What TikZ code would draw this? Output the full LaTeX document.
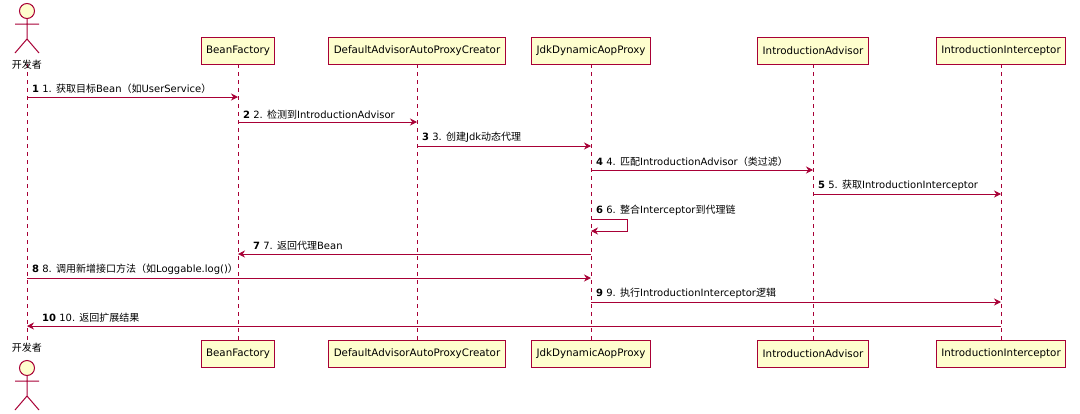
\documentclass[tikz,border=0pt]{standalone}
\usepackage{fontspec}
\setmainfont{DejaVu Sans}
\newfontfamily\cjk{Noto Sans CJK SC}
\usetikzlibrary{arrows.meta}
\definecolor{pfill}{HTML}{FEFECE}
\definecolor{pline}{HTML}{A80036}
\begin{document}
\begin{tikzpicture}[x=1pt,y=-1pt,
  part/.style={draw=pline,fill=pfill,line width=0.9pt,minimum height=27pt,inner xsep=5pt,font=\fontsize{10.3}{12}\selectfont,anchor=center},
  life/.style={draw=pline,dashed,dash pattern=on 4pt off 4pt,line width=0.6pt},
  msg/.style={draw=pline,line width=0.8pt,-{Stealth[length=7pt,width=7pt]}},
  lab/.style={font=\fontsize{10}{12}\selectfont,anchor=south west,inner sep=1pt},
  actorst/.style={draw=pline,line width=1pt}]
\useasboundingbox (0,0) rectangle (1080,413);
\fill[white] (0,0) rectangle (1080,413);
% lifelines
\foreach \x/\n in {27/a,238/b,417/c,591/d,813/e,1001/f}{
  \coordinate (\n t) at (\x,64); \coordinate (\n b) at (\x,340);
  \draw[life] (\n t) -- (\n b);
}
% participants
\foreach \x/\t/\n in {238/BeanFactory/B,417/DefaultAdvisorAutoProxyCreator/C,591/JdkDynamicAopProxy/D,813/IntroductionAdvisor/E,1001/IntroductionInterceptor/F}{
  \node[part] (\n1) at (\x,50.5) {\t};
  \node[part] (\n2) at (\x,353.5) {\t};
}
% actors
\foreach \y in {0,357}{
  \draw[actorst,fill=pfill] (27,\y+11) circle (7.5pt);
  \draw[actorst] (27,\y+18.5) -- (27,\y+39) (15,\y+24) -- (39,\y+24) (27,\y+39) -- (15,\y+53) (27,\y+39) -- (39,\y+53);
}
\node[font=\cjk\fontsize{10}{12}\selectfont] (A1) at (27,65) {开发者};
\node[font=\cjk\fontsize{10}{12}\selectfont] (A2) at (27,348) {开发者};
% messages
\newcommand\msgx[4]{% from x, to x, y, num
  \coordinate (s#4) at (#1,#3); \coordinate (e#4) at (#2,#3);
  \draw[msg] (s#4) -- (e#4);
}
\msgx{27}{238}{97}{1}
\node[lab] at (31,95) {\textbf{1} 1. {\cjk 获取目标}Bean{\cjk （如}UserService{\cjk ）}};
\msgx{238}{417}{122}{2}
\node[lab] at (242,120) {\textbf{2} 2. {\cjk 检测到}IntroductionAdvisor};
\msgx{417}{591}{146}{3}
\node[lab] at (421,144) {\textbf{3} 3. {\cjk 创建}Jdk{\cjk 动态代理}};
\msgx{591}{813}{170}{4}
\node[lab] at (595,168) {\textbf{4} 4. {\cjk 匹配}IntroductionAdvisor{\cjk （类过滤）}};
\msgx{813}{1001}{194}{5}
\node[lab] at (817,192) {\textbf{5} 5. {\cjk 获取}IntroductionInterceptor};
\coordinate (s6) at (591,219); \coordinate (e6) at (591,231);
\draw[msg] (s6) -- (627,219) -- (627,231) -- (e6);
\node[lab] at (595,217) {\textbf{6} 6. {\cjk 整合}Interceptor{\cjk 到代理链}};
\msgx{591}{238}{254}{7}
\node[lab] at (252,252) {\textbf{7} 7. {\cjk 返回代理}Bean};
\msgx{27}{591}{278}{8}
\node[lab] at (31,276) {\textbf{8} 8. {\cjk 调用新增接口方法（如}Loggable.log(){\cjk ）}};
\msgx{591}{1001}{302}{9}
\node[lab] at (595,300) {\textbf{9} 9. {\cjk 执行}IntroductionInterceptor{\cjk 逻辑}};
\msgx{1001}{27}{326}{10}
\node[lab] at (41,324) {\textbf{10} 10. {\cjk 返回扩展结果}};
\end{tikzpicture}
\end{document}
